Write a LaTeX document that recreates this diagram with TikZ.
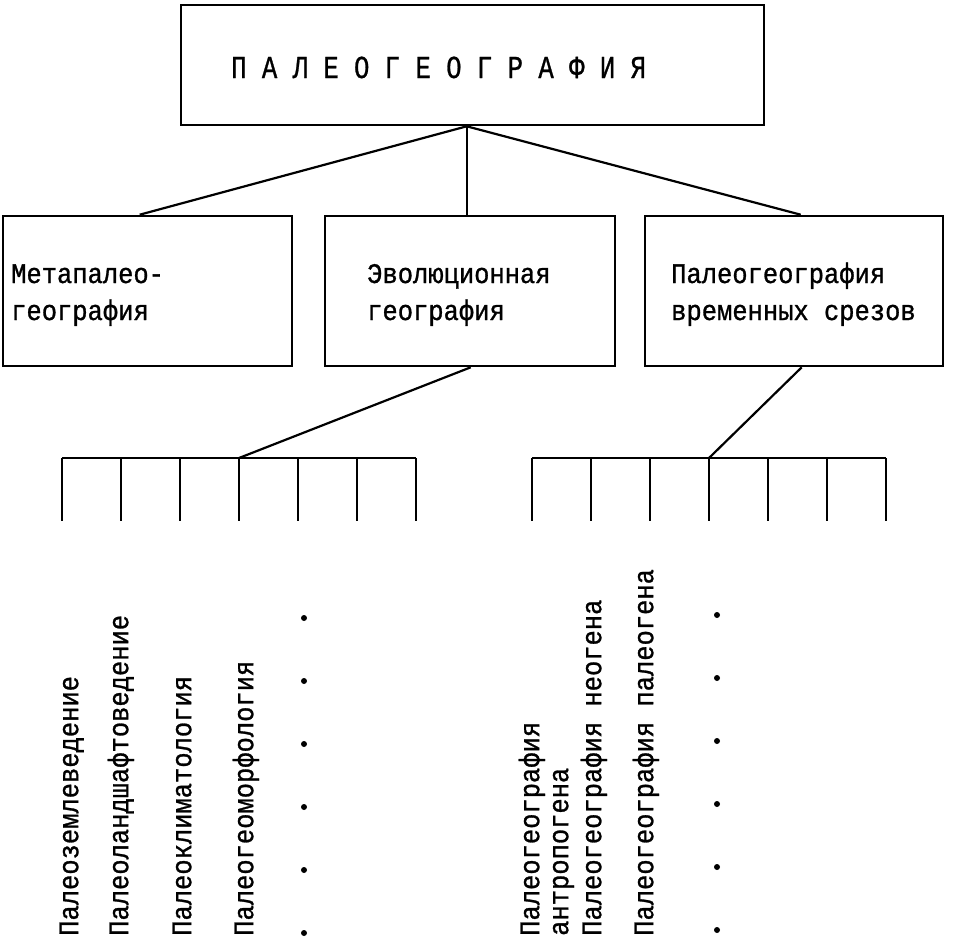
\documentclass[tikz,border=0pt]{standalone}
\usepackage{fontspec}
\newfontfamily\tw[FakeStretch=0.9,FakeBold=1]{Liberation Mono}
\newfontfamily\twt[FakeStretch=0.8,FakeBold=0.8]{Liberation Mono}
\usetikzlibrary{calc}
\tikzset{
  box/.style={draw, line width=2.6pt, inner sep=0pt, minimum width=289pt, minimum height=150pt},
  lbl/.style={font=\tw\fontsize{28.3pt}{34pt}\selectfont, inner sep=0pt, anchor=base west},
  vlbl/.style={font=\tw\fontsize{28.3pt}{34pt}\selectfont, inner sep=0pt, anchor=mid west, rotate=90},
  conn/.style={line width=2.2pt},
  combline/.style={line width=2.8pt},
  dotm/.style={circle, fill, inner sep=0pt, minimum size=6pt},
}
\begin{document}
\begin{tikzpicture}[x=1pt,y=-1pt]
\useasboundingbox (0,0) rectangle (958,940);
% boxes
\node[box, minimum width=583pt, minimum height=120pt] (top) at (472.5,65) {};
\node[box, minimum width=289pt] (boxL) at (147.5,291) {};
\node[box, minimum width=290pt] (boxM) at (470,291) {};
\node[box, minimum width=298pt] (boxR) at (794,291) {};
% texts
\node[lbl, font=\twt\fontsize{32pt}{38pt}\selectfont] (title) at (231,78) {П А Л Е О Г Е О Г Р А Ф И Я};
\node[lbl] (tL1) at (11,283) {Метапалео-};
\node[lbl] (tL2) at (11,320) {география};
\node[lbl] (tM1) at (367,283) {Эволюционная};
\node[lbl] (tM2) at (367,320) {география};
\node[lbl] (tR1) at (671,283) {Палеогеография};
\node[lbl] (tR2) at (671,320) {временных срезов};
% connectors from top
\coordinate (hub) at ($(top.south west)+(287,0)$);
\draw[conn] (hub) -- ($(boxL.north west)+(138,0)$);
\draw[conn] (hub) -- (hub |- boxM.north);
\draw[conn] (hub) -- ($(boxR.north west)+(157,0)$);
% combs
\foreach \i in {1,...,7} {
  \coordinate (L\i) at ({62+59*(\i-1)},458);
  \coordinate (R\i) at ({532+59*(\i-1)},458);
}
\draw[combline] (L1) -- (L7);
\draw[combline] (R1) -- (R7);
\foreach \i in {1,...,7} {
  \draw[conn] (L\i) -- ++(0,63);
  \draw[conn] (R\i) -- ++(0,63);
}
\draw[conn] ($(boxM.south west)+(147,0)$) -- (L4);
\draw[conn] ($(boxR.south west)+(158,0)$) -- (R4);
% rotated labels
\node[vlbl] (e1) at (76,936) {Палеоземлеведение};
\node[vlbl] (e2) at (126,936) {Палеоландшафтоведение};
\node[vlbl] (e3) at (189,936) {Палеоклиматология};
\node[vlbl] (e4) at (251,936) {Палеогеоморфология};
\node[vlbl] (s1a) at (537,936) {Палеогеография};
\node[vlbl] (s1b) at (566,936) {антропогена};
\node[vlbl] (s2) at (599,936) {Палеогеография неогена};
\node[vlbl] (s3) at (651,936) {Палеогеография палеогена};
% dots
\foreach \j in {0,...,5} {
  \node[dotm] (dl\j) at (304,{618+63*\j}) {};
  \node[dotm] (dr\j) at (717,{615+63*\j}) {};
}
\end{tikzpicture}
\end{document}
